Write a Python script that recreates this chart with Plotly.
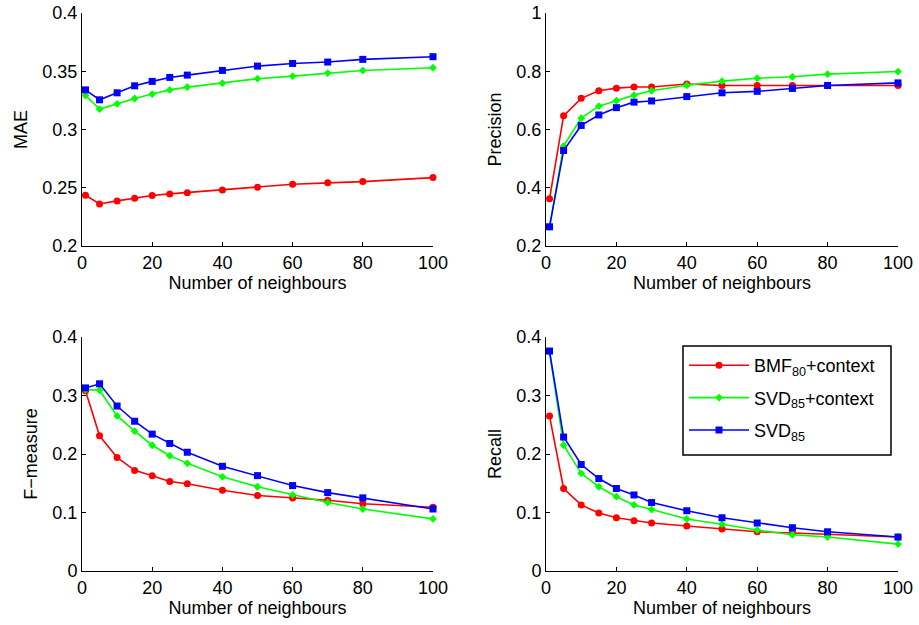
import plotly.graph_objects as go

neighbours = [1, 5, 10, 15, 20, 25, 30, 40, 50, 60, 70, 80, 100]

series_names = ["BMF<sub>80</sub>+context", "SVD<sub>85</sub>+context", "SVD<sub>85</sub>"]

mae_bmf = [0.2436, 0.2361, 0.2387, 0.2410, 0.2433, 0.2447, 0.2458, 0.2481, 0.2504, 0.2530, 0.2542, 0.2553, 0.2587]
mae_svdc = [0.3292, 0.3175, 0.3220, 0.3266, 0.3304, 0.3340, 0.3364, 0.3398, 0.3436, 0.3458, 0.3484, 0.3507, 0.3530]
mae_svd = [0.3340, 0.3255, 0.3315, 0.3375, 0.3413, 0.3447, 0.3467, 0.3507, 0.3544, 0.3567, 0.3579, 0.3602, 0.3625]

prec_bmf = [0.362, 0.647, 0.707, 0.733, 0.742, 0.746, 0.746, 0.756, 0.751, 0.751, 0.751, 0.751, 0.751]
prec_svdc = [0.265, 0.543, 0.639, 0.680, 0.699, 0.718, 0.733, 0.752, 0.766, 0.776, 0.781, 0.790, 0.799]
prec_svd = [0.266, 0.528, 0.614, 0.650, 0.675, 0.694, 0.698, 0.713, 0.726, 0.731, 0.741, 0.751, 0.760]

f_bmf = [0.308, 0.231, 0.194, 0.172, 0.163, 0.153, 0.149, 0.138, 0.129, 0.125, 0.121, 0.115, 0.109]
f_svdc = [0.310, 0.309, 0.265, 0.239, 0.215, 0.197, 0.184, 0.161, 0.144, 0.130, 0.117, 0.106, 0.089]
f_svd = [0.313, 0.320, 0.282, 0.256, 0.234, 0.218, 0.203, 0.179, 0.163, 0.146, 0.134, 0.125, 0.106]

rec_bmf = [0.265, 0.141, 0.113, 0.099, 0.091, 0.086, 0.082, 0.077, 0.072, 0.067, 0.065, 0.063, 0.058]
rec_svdc = [0.374, 0.215, 0.167, 0.144, 0.127, 0.113, 0.105, 0.089, 0.080, 0.070, 0.062, 0.058, 0.046]
rec_svd = [0.376, 0.229, 0.182, 0.158, 0.141, 0.130, 0.117, 0.103, 0.091, 0.082, 0.074, 0.067, 0.058]

panels = [
    ("MAE", [mae_bmf, mae_svdc, mae_svd], [0.2, 0.4], 0.05, "x", "y"),
    ("Precision", [prec_bmf, prec_svdc, prec_svd], [0.2, 1.0], 0.2, "x2", "y2"),
    ("F\u2212measure", [f_bmf, f_svdc, f_svd], [0, 0.4], 0.1, "x3", "y3"),
    ("Recall", [rec_bmf, rec_svdc, rec_svd], [0, 0.4], 0.1, "x4", "y4"),
]

colors = ["#ff0000", "#00ff00", "#0000ff"]
symbols = ["circle", "diamond", "square"]
msizes = [7, 6, 7]

fig = go.Figure()
for pi, (title, data, yr, dt, xa, ya) in enumerate(panels):
    for si in range(3):
        fig.add_trace(go.Scatter(
            x=neighbours, y=data[si], xaxis=xa, yaxis=ya,
            mode="lines+markers", name=series_names[si],
            legendgroup="g%d" % si,
            line=dict(color=colors[si], width=1.6),
            marker=dict(color=colors[si], symbol=symbols[si], size=msizes[si]),
            showlegend=(pi == 3), cliponaxis=False,
        ))

W, H = 919, 625
xdomL = [82 / W, 433 / W]
xdomR = [546 / W, 898 / W]
ydomT = [1 - 246 / H, 1 - 13 / H]
ydomB = [1 - 571 / H, 1 - 337 / H]

font = dict(family="Liberation Sans, Arial, sans-serif", size=18, color="#000000")

def xaxis(dom, anchor):
    return dict(domain=dom, anchor=anchor, range=[0, 100], tickvals=[0, 20, 40, 60, 80, 100],
                showline=True, linecolor="#000000", linewidth=1, mirror=False, automargin=False,
                ticks="inside", ticklen=4, tickcolor="#000000", showgrid=False, zeroline=False,
                title=dict(text="Number of neighbours", font=font, standoff=2), tickfont=font)

def yaxis(dom, anchor, title, yr, dt):
    return dict(domain=dom, anchor=anchor, range=yr, dtick=dt, tick0=0,
                showline=True, linecolor="#000000", linewidth=1, mirror=False, automargin=False,
                ticks="inside", ticklen=4, tickcolor="#000000", showgrid=False, zeroline=False,
                title=dict(text=title, font=font, standoff=10), tickfont=font)

fig.update_layout(
    template="none",
    width=W, height=H,
    margin=dict(l=0, r=0, t=0, b=0, autoexpand=False),
    paper_bgcolor="white", plot_bgcolor="white",
    font=font,
    xaxis=xaxis(xdomL, "y"),
    yaxis=yaxis(ydomT, "x", panels[0][0], panels[0][2], panels[0][3]),
    xaxis2=xaxis(xdomR, "y2"),
    yaxis2=yaxis(ydomT, "x2", panels[1][0], panels[1][2], panels[1][3]),
    xaxis3=xaxis(xdomL, "y3"),
    yaxis3=yaxis(ydomB, "x3", panels[2][0], panels[2][2], panels[2][3]),
    xaxis4=xaxis(xdomR, "y4"),
    yaxis4=yaxis(ydomB, "x4", panels[3][0], panels[3][2], panels[3][3]),
    legend=dict(x=684 / W, y=1 - 347 / H, xanchor="left", yanchor="top",
                borderwidth=0, bgcolor="rgba(0,0,0,0)",
                font=font, tracegroupgap=6, itemwidth=60),
    shapes=[dict(type="rect", xref="paper", yref="paper",
                 x0=683 / W, x1=891 / W, y0=1 - 455 / H, y1=1 - 346 / H,
                 line=dict(color="#000000", width=1.5), fillcolor="white", layer="below")],
    showlegend=True,
)

fig.write_html("out.html", config={"displayModeBar": False},
               post_script="document.body.style.margin='0';document.body.style.overflow='hidden';")
